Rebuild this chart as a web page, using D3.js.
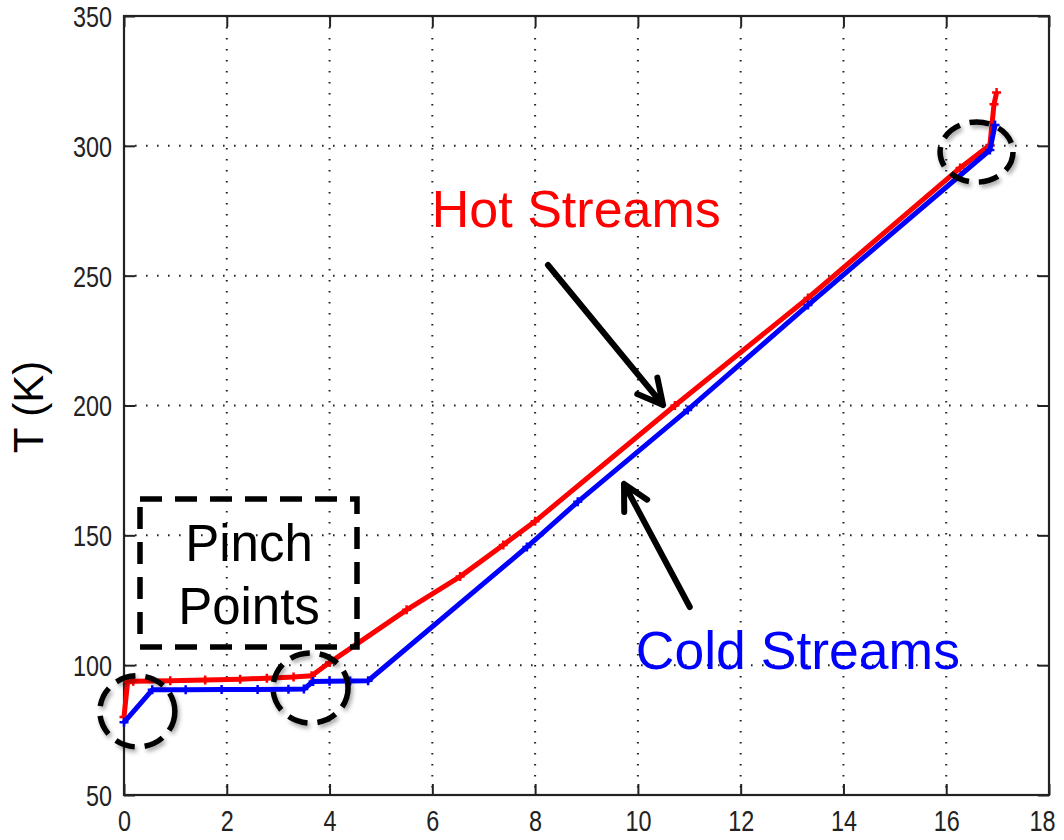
<!DOCTYPE html>
<html>
<head>
<meta charset="utf-8">
<script src="https://cdn.jsdelivr.net/npm/d3@7"></script>
<style>
  html, body { margin: 0; padding: 0; background: #fff; }
  svg { display: block; }
</style>
</head>
<body>
<svg id="chart" width="1064" height="840"></svg>
<script>
// ---- data ----
const hotX = [0, 0.07, 0.18, 0.9, 1.58, 2.26, 2.78, 3.3, 3.65, 4.0, 5.5, 6.54, 7.38, 8.0, 10.72, 13.31, 16.27, 16.85, 16.93, 16.98];
const hotT = [80, 93.5, 93.8, 94.0, 94.3, 94.6, 95.0, 95.4, 95.9, 101, 121.3, 134.1, 146.3, 155.4, 200, 241.4, 291.5, 300.3, 316, 320.5];
const coldX = [0, 0.55, 1.2, 1.9, 2.6, 3.2, 3.5, 3.68, 4.0, 4.4, 4.75, 7.84, 8.83, 10.97, 13.31, 16.85, 16.95];
const coldT = [78, 90.5, 90.5, 90.6, 90.6, 90.7, 90.8, 93.7, 93.8, 93.9, 94, 145.5, 162.9, 198.3, 238.7, 298.4, 308];
const xTicks = [0, 2, 4, 6, 8, 10, 12, 14, 16, 18];
const yTicks = [50, 100, 150, 200, 250, 300, 350];
const yLabel = "T (K)";
const hotLabel = "Hot Streams";
const coldLabel = "Cold Streams";
const pinchLines = ["Pinch", "Points"];
// annotation anchors in data units: [x, T, rx (x units), ry (T units)]
const pinchCircles = [[0.26, 82.2, 0.73, 13.7], [3.63, 91.2, 0.73, 13.5], [16.59, 297.6, 0.71, 11.6]];
const arrows = [[8.25, 254.1, 10.49, 200.2], [11.01, 122.4, 9.73, 169.8]];

const svg = d3.select("#chart");
const x = d3.scaleLinear().domain([0, 18]).range([124, 1049]);
const y = d3.scaleLinear().domain([50, 350]).range([795, 16]);

const defs = svg.append("defs");
const f = defs.append("filter").attr("id", "shadow").attr("x", "-30%").attr("y", "-30%").attr("width", "160%").attr("height", "160%");
f.append("feDropShadow").attr("dx", 2).attr("dy", 3).attr("stdDeviation", 2.2).attr("flood-color", "#000").attr("flood-opacity", 0.35);

const tickFont = "'Liberation Sans', Arial, sans-serif";

// grid
const grid = svg.append("g");
xTicks.slice(1, -1).forEach(t => {
  grid.append("line").attr("x1", x(t)).attr("x2", x(t)).attr("y1", y(350)).attr("y2", y(50))
    .attr("stroke", "#222").attr("stroke-width", 2).attr("stroke-dasharray", "1.6 9.4");
});
yTicks.slice(1, -1).forEach(t => {
  grid.append("line").attr("x1", x(0)).attr("x2", x(18)).attr("y1", y(t)).attr("y2", y(t))
    .attr("stroke", "#222").attr("stroke-width", 2).attr("stroke-dasharray", "1.6 9.4");
});

// axes (inward ticks on all sides)
const axB = d3.axisBottom(x).tickValues(xTicks).tickSizeInner(-11).tickSizeOuter(0).tickPadding(20).tickFormat(d3.format("d"));
const axL = d3.axisLeft(y).tickValues(yTicks).tickSizeInner(-11).tickSizeOuter(0).tickPadding(12).tickFormat(d3.format("d"));
const axT = d3.axisTop(x).tickValues(xTicks).tickSizeInner(-11).tickSizeOuter(0).tickFormat("");
const axR = d3.axisRight(y).tickValues(yTicks).tickSizeInner(-11).tickSizeOuter(0).tickFormat("");
const gB = svg.append("g").attr("transform", `translate(0,${y(50)})`).call(axB);
const gL = svg.append("g").attr("transform", `translate(${x(0)},0)`).call(axL);
svg.append("g").attr("transform", `translate(0,${y(350)})`).call(axT);
svg.append("g").attr("transform", `translate(${x(18)},0)`).call(axR);
svg.selectAll(".domain").remove();
svg.selectAll(".tick line").attr("stroke", "#222").attr("stroke-width", 2);
svg.selectAll(".tick text").attr("font-family", tickFont).attr("font-size", 29).attr("fill", "#222")
  .attr("lengthAdjust", "spacingAndGlyphs")
  .attr("textLength", function () { return this.textContent.length * 13.0; });
gB.selectAll(".tick text").attr("dy", "0.55em");
gB.selectAll(".tick text").filter(d => d === 18).attr("x", -7);
gL.selectAll(".tick text").attr("dy", "0.36em");
// box
svg.append("rect").attr("x", x(0)).attr("y", y(350)).attr("width", x(18) - x(0)).attr("height", y(50) - y(350))
  .attr("fill", "none").attr("stroke", "#222").attr("stroke-width", 2.2);

// y label
svg.append("text").attr("transform", `translate(43,407) rotate(-90)`).attr("text-anchor", "middle")
  .attr("font-family", "'Liberation Sans', Arial, sans-serif").attr("font-size", 42).attr("fill", "#000").text(yLabel);

// series
const line = d3.line().x(d => x(d[0])).y(d => y(d[1]));
function drawSeries(xs, ts, color) {
  const pts = xs.map((v, i) => [v, ts[i]]);
  svg.append("path").datum(pts).attr("d", line).attr("fill", "none").attr("stroke", color)
    .attr("stroke-width", 5).attr("stroke-linejoin", "round");
  const m = svg.append("g");
  pts.forEach(p => {
    const cx = x(p[0]), cy = y(p[1]), s = 4.5;
    m.append("path").attr("d", `M${cx - s},${cy}H${cx + s}M${cx},${cy - s}V${cy + s}`)
      .attr("stroke", color).attr("stroke-width", 2.5);
  });
}
drawSeries(hotX, hotT, "#ff0000");
drawSeries(coldX, coldT, "#0000ff");

// pinch circles
pinchCircles.forEach(c => {
  const cx = x(c[0]), cy = y(c[1]);
  const rx = x(c[2]) - x(0), ry = y(50) - y(50 + c[3]);
  svg.append("ellipse").attr("cx", cx).attr("cy", cy).attr("rx", rx).attr("ry", ry)
    .attr("fill", "none").attr("stroke", "#000").attr("stroke-width", 5.5)
    .attr("stroke-dasharray", "20 10").attr("filter", "url(#shadow)");
});

// pinch points box
svg.append("rect").attr("x", 140).attr("y", 499).attr("width", 217).attr("height", 148)
  .attr("fill", "none").attr("stroke", "#000").attr("stroke-width", 5.5).attr("stroke-dasharray", "22 13");
svg.append("text").attr("x", 249).attr("y", 561).attr("text-anchor", "middle")
  .attr("font-family", "'Liberation Sans', Arial, sans-serif").attr("font-size", 51).attr("fill", "#000").text(pinchLines[0]);
svg.append("text").attr("x", 249).attr("y", 624).attr("text-anchor", "middle")
  .attr("font-family", "'Liberation Sans', Arial, sans-serif").attr("font-size", 51).attr("fill", "#000").text(pinchLines[1]);

// arrows
arrows.forEach(a => {
  const x1 = x(a[0]), y1 = y(a[1]), x2 = x(a[2]), y2 = y(a[3]);
  const ang = Math.atan2(y2 - y1, x2 - x1);
  const L = 28, spread = Math.PI / 6.5;
  const b1 = [x2 - L * Math.cos(ang - spread), y2 - L * Math.sin(ang - spread)];
  const b2 = [x2 - L * Math.cos(ang + spread), y2 - L * Math.sin(ang + spread)];
  svg.append("path").attr("d", `M${x1},${y1}L${x2},${y2}M${b1[0]},${b1[1]}L${x2},${y2}L${b2[0]},${b2[1]}`)
    .attr("fill", "none").attr("stroke", "#000").attr("stroke-width", 6)
    .attr("stroke-linecap", "round").attr("stroke-linejoin", "round");
});

// labels
svg.append("text").attr("x", x(5.99)).attr("y", y(268.8)).attr("font-family", "'Liberation Sans', Arial, sans-serif")
  .attr("font-size", 52).attr("fill", "#ff0000").text(hotLabel);
svg.append("text").attr("x", x(9.96)).attr("y", y(98.5)).attr("font-family", "'Liberation Sans', Arial, sans-serif")
  .attr("font-size", 53.5).attr("fill", "#0000ff").text(coldLabel);
</script>
</body>
</html>
